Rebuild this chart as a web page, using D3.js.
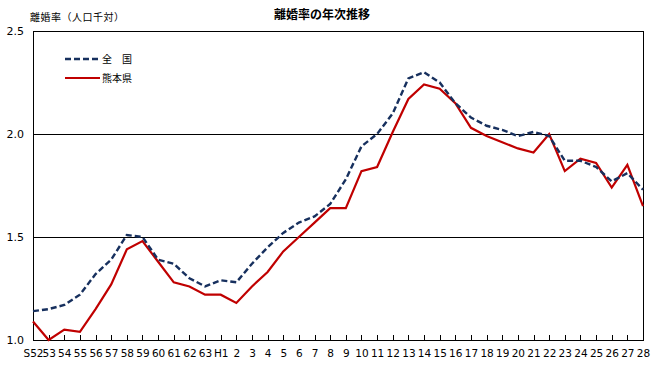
<!DOCTYPE html>
<html>
<head>
<meta charset="utf-8">
<script src="https://cdn.jsdelivr.net/npm/d3@7"></script>
<style>
  body { margin: 0; background: #fff; }
  svg { display: block; }
</style>
</head>
<body>
<script>
// categories: Showa 52 .. 63, Heisei 1 .. 28
const years = ['S52','53','54','55','56','57','58','59','60','61','62','63',
  'H1','2','3','4','5','6','7','8','9','10','11','12','13','14','15','16','17','18','19','20',
  '21','22','23','24','25','26','27','28'];

// 全国
const national = [1.14,1.15,1.17,1.22,1.32,1.39,1.51,1.50,1.39,1.37,1.30,1.26,
  1.29,1.28,1.37,1.45,1.52,1.57,1.60,1.66,1.78,1.94,2.00,2.10,2.27,2.30,2.25,2.15,2.08,2.04,2.02,1.99,
  2.01,1.99,1.87,1.87,1.84,1.77,1.81,1.73];

// 熊本県
const kumamoto = [1.09,1.00,1.05,1.04,1.15,1.27,1.44,1.48,1.38,1.28,1.26,1.22,
  1.22,1.18,1.26,1.33,1.43,1.50,1.57,1.64,1.64,1.82,1.84,2.01,2.17,2.24,2.22,2.15,2.03,1.99,1.96,1.93,
  1.91,2.00,1.82,1.88,1.86,1.74,1.85,1.65];

const yTicks = [1.0, 1.5, 2.0, 2.5];

const w = 660, h = 365;
const margin = {top: 31, right: 17, bottom: 25, left: 33};

const svg = d3.select('body').append('svg')
  .attr('width', w)
  .attr('height', h);

const x = d3.scalePoint()
  .domain(years)
  .range([margin.left, w - margin.right]);

const y = d3.scaleLinear()
  .domain([1.0, 2.5])
  .range([h - margin.bottom, margin.top]);

// gridlines
svg.append('g')
  .selectAll('line')
  .data([1.5, 2.0])
  .enter().append('line')
  .attr('x1', margin.left).attr('x2', w - margin.right)
  .attr('y1', d => y(d)).attr('y2', d => y(d))
  .attr('stroke', '#000').attr('stroke-width', 1)
  .attr('shape-rendering', 'crispEdges');

// frame (top + right)
svg.append('path')
  .attr('d', `M${margin.left},${y(2.5)}H${w - margin.right}V${y(1.0)}`)
  .attr('fill', 'none').attr('stroke', '#000').attr('stroke-width', 1)
  .attr('shape-rendering', 'crispEdges');

// x axis, ticks pointing up
const xAxis = d3.axisBottom(x).tickSizeInner(-5).tickSizeOuter(0).tickPadding(10);
const gx = svg.append('g')
  .attr('transform', `translate(0,${y(1.0)})`)
  .call(xAxis);
gx.selectAll('text')
  .attr('font-family', 'DejaVu Sans, Verdana, sans-serif')
  .attr('font-size', 10.5)
  .attr('fill', '#000');
gx.selectAll('line, path').attr('stroke', '#000').attr('shape-rendering', 'crispEdges');

// y axis, no ticks
const yAxis = d3.axisLeft(y).tickValues(yTicks).tickFormat(d3.format('.1f')).tickSize(0).tickPadding(9);
const gy = svg.append('g')
  .attr('transform', `translate(${margin.left},0)`)
  .call(yAxis);
gy.selectAll('text')
  .attr('font-family', 'DejaVu Sans, Verdana, sans-serif')
  .attr('font-size', 11)
  .attr('fill', '#000');
gy.select('path').attr('stroke', '#000').attr('shape-rendering', 'crispEdges');

// lines
const line = d3.line()
  .x((d, i) => x(years[i]))
  .y(d => y(d));

svg.append('path')
  .datum(kumamoto)
  .attr('d', line)
  .attr('fill', 'none')
  .attr('stroke', '#C00000')
  .attr('stroke-width', 2.2);

svg.append('path')
  .datum(national)
  .attr('d', line)
  .attr('fill', 'none')
  .attr('stroke', '#17305E')
  .attr('stroke-width', 2.4)
  .attr('stroke-dasharray', '6,3');

// titles
svg.append('text')
  .attr('x', 322).attr('y', 19)
  .attr('text-anchor', 'middle')
  .attr('font-family', 'Noto Sans CJK JP, sans-serif')
  .attr('font-weight', 'bold')
  .attr('font-size', 12)
  .text('離婚率の年次推移');

svg.append('text')
  .attr('x', 30).attr('y', 21)
  .attr('font-family', 'Noto Sans CJK JP, sans-serif')
  .attr('font-size', 10)
  .attr('letter-spacing', 0.5)
  .text('離婚率（人口千対）');

// legend
const legend = [
  {name: '全　国', color: '#17305E', dash: '6,3', width: 2.4},
  {name: '熊本県', color: '#C00000', dash: null, width: 2.2}
];
const lg = svg.append('g');
legend.forEach((d, i) => {
  const ly = 59 + i * 19;
  lg.append('line')
    .attr('x1', 65).attr('x2', 100)
    .attr('y1', ly).attr('y2', ly)
    .attr('stroke', d.color)
    .attr('stroke-width', d.width)
    .attr('stroke-dasharray', d.dash);
  lg.append('text')
    .attr('x', 102).attr('y', ly + 4)
    .attr('font-family', 'Noto Sans CJK JP, sans-serif')
    .attr('font-size', 10)
    .text(d.name);
});
</script>
</body>
</html>
